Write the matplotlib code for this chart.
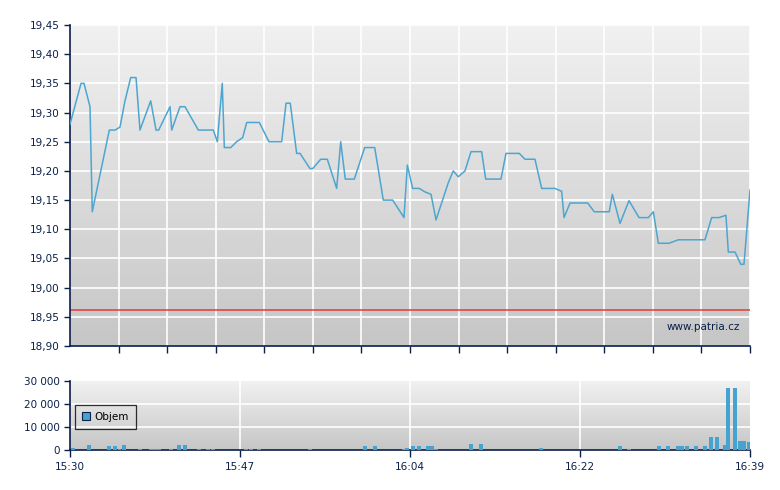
import numpy as np
import matplotlib
matplotlib.use('Agg')
import matplotlib.pyplot as plt
from matplotlib.colors import LinearSegmentedColormap

# price series: minutes after 15:30 and price
price_t = [0.0, 1.12, 1.42, 2.03, 2.26, 3.99, 4.57, 5.07, 5.58, 6.16, 6.70, 7.10,
           8.19, 8.73, 9.00, 10.15, 10.32, 11.16, 11.67, 13.02, 14.54, 14.95, 15.45,
           15.66, 16.31, 16.91, 17.52, 17.93, 19.21, 20.19, 21.48, 21.92, 22.35,
           23.00, 23.34, 24.35, 24.63, 25.44, 26.11, 27.06, 27.47, 27.93, 28.85,
           29.90, 30.92, 31.79, 32.74, 33.89, 34.23, 34.77, 35.44, 36.02, 36.63,
           37.14, 38.39, 38.89, 39.40, 40.08, 40.69, 41.77, 42.18, 43.73, 44.24,
           45.59, 46.17, 47.18, 47.86, 49.21, 49.89, 50.13, 50.74, 52.53, 53.20,
           54.72, 55.03, 55.81, 56.72, 57.74, 58.68, 59.19, 59.70, 60.78, 61.73,
           64.43, 65.11, 65.85, 66.56, 66.80, 67.48, 68.06, 68.39, 69.00]
price = [19.28, 19.35, 19.35, 19.31, 19.13, 19.27, 19.27, 19.275, 19.32, 19.36, 19.36,
         19.27, 19.32, 19.27, 19.27, 19.31, 19.27, 19.31, 19.31, 19.27, 19.27, 19.25,
         19.35, 19.24, 19.24, 19.25, 19.257, 19.283, 19.283, 19.25, 19.25, 19.316,
         19.316, 19.23, 19.23, 19.204, 19.204, 19.22, 19.22, 19.17, 19.25, 19.186,
         19.186, 19.24, 19.24, 19.15, 19.15, 19.12, 19.21, 19.17, 19.17, 19.164,
         19.16, 19.116, 19.18, 19.20, 19.19, 19.20, 19.233, 19.233, 19.186, 19.186,
         19.23, 19.23, 19.22, 19.22, 19.17, 19.17, 19.165, 19.12, 19.145, 19.145,
         19.13, 19.13, 19.16, 19.11, 19.149, 19.12, 19.12, 19.13, 19.076, 19.076,
         19.082, 19.082, 19.12, 19.12, 19.124, 19.061, 19.061, 19.04, 19.04, 19.167]
ref_price = 18.962

# volume bars
vol_t = [0.30, 1.93, 3.96, 4.57, 5.02, 5.48, 7.10, 8.22, 8.62, 9.03, 10.25, 11.06,
         11.67, 13.09, 14.00, 14.51, 17.86, 18.37, 19.18, 24.35, 29.93, 30.95, 33.84,
         34.20, 34.80, 35.41, 36.33, 36.73, 37.14, 40.69, 41.70, 47.79, 55.81, 56.72,
         59.72, 60.68, 61.70, 62.10, 62.61, 63.52, 64.43, 65.04, 65.65, 66.46, 66.77,
         67.48, 67.99, 68.39, 68.90]
vol = [900, 2200, 1700, 1700, 600, 2200, 400, 400, 400, 400, 400, 2200,
       2200, 400, 400, 400, 400, 400, 400, 400, 1700, 1700, 400,
       900, 1700, 1700, 1700, 1700, 400, 2600, 2600, 900, 1700, 400,
       1700, 1700, 1700, 1700, 1700, 1700, 1700, 5600, 5600, 2200, 27000,
       27000, 3900, 3900, 3500]

time_labels = ['15:30', '15:47', '16:04', '16:22', '16:39']
price_ticks = [18.90, 18.95, 19.00, 19.05, 19.10, 19.15, 19.20, 19.25, 19.30, 19.35, 19.40, 19.45]
vol_ticks = [0, 10000, 20000, 30000]

navy = '#0b1f4b'
line_c = '#4da6d0'
bar_c = '#46a3cf'
t_end = 69.0

plt.rcParams['font.family'] = ['DejaVu Sans']
plt.rcParams['font.size'] = 7.5

fig = plt.figure(figsize=(7.8, 4.9), dpi=100)
ax = fig.add_axes([70/780, 1-346/490, 680/780, 321/490])
axv = fig.add_axes([70/780, 1-450/490, 680/780, 69/490])

grad = LinearSegmentedColormap.from_list('g', ['#c6c6c6', '#f1f1f1'])


def background(a):
    g = np.linspace(0, 1, 256).reshape(-1, 1)
    a.imshow(g, cmap=grad, origin='lower', aspect='auto', extent=[0, 1, 0, 1],
             transform=a.transAxes, zorder=0)


def style(a):
    for s in ['top', 'right']:
        a.spines[s].set_visible(False)
    for s in ['left', 'bottom']:
        a.spines[s].set_color(navy)
        a.spines[s].set_linewidth(1.2)
    a.tick_params(colors=navy, labelcolor=navy, length=4, width=1)


# price chart
background(ax)
grid_x = [k * t_end / 14 for k in range(1, 15)]
for gx in grid_x:
    ax.axvline(gx, color='white', lw=1.2, zorder=1)
for gy in price_ticks[1:]:
    ax.axhline(gy, color='white', lw=1.2, zorder=1)
ax.plot(price_t, price, color=line_c, lw=1.1, zorder=3)
ax.axhline(ref_price, color='#e23b3b', lw=1.1, zorder=2)
ax.set_xlim(0, t_end)
ax.set_ylim(18.90, 19.45)
ax.set_yticks(price_ticks)
ax.set_yticklabels([('%.2f' % v).replace('.', ',') for v in price_ticks])
ax.set_xticks(grid_x)
ax.set_xticklabels([])
style(ax)
ax.tick_params(axis='x', length=5)
ax.text(0.985, 0.06, 'www.patria.cz', transform=ax.transAxes, ha='right', va='center',
        color=navy, fontsize=7.5, zorder=4)

# volume chart
background(axv)
vol_x = [k * t_end / 4 for k in range(5)]
for gx in vol_x[1:-1]:
    axv.axvline(gx, color='white', lw=1.2, zorder=1)
for gy in vol_ticks[1:3]:
    axv.axhline(gy, color='white', lw=1.2, zorder=1)
axv.bar(vol_t, vol, width=0.4, color=bar_c, zorder=3, label='Objem')
axv.set_xlim(0, t_end)
axv.set_ylim(0, 30000)
axv.set_yticks(vol_ticks)
axv.set_yticklabels(['{:,}'.format(v).replace(',', ' ') for v in vol_ticks])
axv.set_xticks(vol_x)
axv.set_xticklabels(time_labels)
style(axv)
axv.tick_params(axis='x', length=5)
leg = axv.legend(loc='upper left', bbox_to_anchor=(0.007, 0.655), borderaxespad=0,
                 frameon=True, fancybox=False,
                 handlelength=0.8, handleheight=0.8, handletextpad=0.4, borderpad=0.7,
                 fontsize=7.5)
leg.get_frame().set_edgecolor('black')
leg.get_frame().set_facecolor('none')
leg.get_frame().set_linewidth(0.9)
for h in leg.legend_handles:
    h.set_edgecolor(navy)
    h.set_linewidth(0.8)

fig.savefig('out.png', dpi=100)
